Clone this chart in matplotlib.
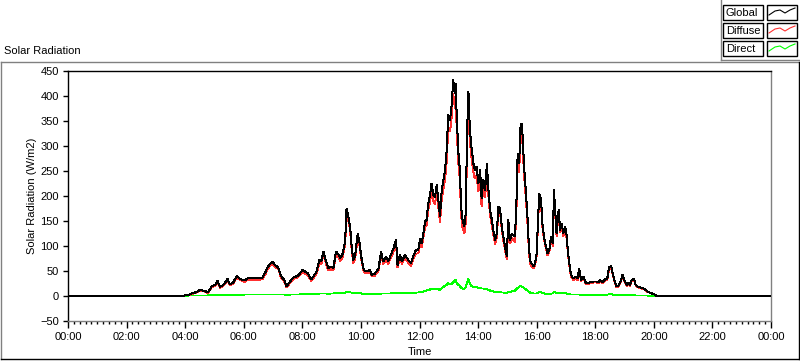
import matplotlib
matplotlib.use("Agg")
import matplotlib.pyplot as plt
from matplotlib.lines import Line2D
from matplotlib.patches import Rectangle
from matplotlib.ticker import FixedLocator, MultipleLocator, FuncFormatter

plt.rcParams['font.family'] = ['Liberation Sans', 'DejaVu Sans']

# ---------------- data (hours of day, W/m2) ----------------
times = [0, 3.9, 3.93, 3.99, 4.1, 4.27, 4.4, 4.5, 4.6, 4.68,
         4.78, 4.9, 5.02, 5.1, 5.19, 5.3, 5.36, 5.44, 5.53, 5.64,
         5.76, 5.85, 5.93, 6.04, 6.16, 6.27, 6.38, 6.5, 6.64, 6.75,
         6.84, 6.98, 7.07, 7.18, 7.27, 7.38, 7.46, 7.58, 7.69, 7.83,
         7.92, 8.0, 8.09, 8.2, 8.3, 8.4, 8.49, 8.58, 8.65, 8.72,
         8.81, 8.89, 8.97, 9.06, 9.15, 9.23, 9.3, 9.38, 9.46, 9.51,
         9.55, 9.63, 9.68, 9.74, 9.8, 9.89, 9.94, 10.02, 10.1, 10.2,
         10.3, 10.37, 10.48, 10.6, 10.69, 10.76, 10.86, 10.93, 11.0, 11.11,
         11.2, 11.25, 11.33, 11.4, 11.5, 11.62, 11.71, 11.8, 11.88, 11.96,
         12.02, 12.07, 12.13, 12.19, 12.24, 12.3, 12.36, 12.41, 12.47, 12.53,
         12.59, 12.64, 12.7, 12.76, 12.81, 12.87, 12.93, 12.98, 13.04, 13.1,
         13.15, 13.21, 13.24, 13.27, 13.33, 13.38, 13.42, 13.47, 13.53, 13.58,
         13.62, 13.67, 13.72, 13.78, 13.84, 13.89, 13.95, 14.01, 14.07, 14.12,
         14.18, 14.24, 14.3, 14.35, 14.41, 14.47, 14.52, 14.58, 14.64, 14.69,
         14.75, 14.81, 14.86, 14.92, 14.98, 15.03, 15.09, 15.15, 15.2, 15.26,
         15.32, 15.35, 15.4, 15.45, 15.49, 15.52, 15.57, 15.62, 15.68, 15.73,
         15.77, 15.83, 15.89, 15.94, 16.0, 16.05, 16.09, 16.15, 16.2, 16.26,
         16.32, 16.37, 16.43, 16.49, 16.55, 16.59, 16.64, 16.68, 16.75, 16.8,
         16.85, 16.91, 16.97, 17.02, 17.06, 17.1, 17.17, 17.25, 17.33, 17.4,
         17.45, 17.52, 17.6, 17.65, 17.7, 17.82, 17.93, 18.04, 18.1, 18.16,
         18.24, 18.33, 18.41, 18.47, 18.54, 18.6, 18.65, 18.73, 18.81, 18.88,
         18.93, 18.99, 19.07, 19.12, 19.18, 19.24, 19.33, 19.38, 19.45, 19.54,
         19.65, 19.79, 19.9, 20.02, 20.1, 24]

global_rad = [0, 0, 0, 1, 2, 6, 8, 12, 11, 10,
              7, 19, 22, 31, 18, 22, 26, 35, 23, 27,
              40, 35, 33, 31, 37, 35, 36, 35, 37, 49,
              60, 69, 62, 57, 40, 32, 19, 29, 37, 40,
              45, 52, 49, 45, 33, 41, 49, 72, 69, 89,
              69, 55, 59, 56, 89, 83, 76, 85, 109, 175,
              165, 139, 102, 72, 79, 125, 112, 76, 52, 49,
              53, 42, 45, 55, 89, 69, 79, 69, 79, 95,
              112, 62, 82, 69, 82, 72, 65, 82, 92, 92,
              115, 105, 125, 149, 152, 185, 202, 225, 202, 198,
              222, 193, 159, 212, 229, 252, 292, 362, 352, 382,
              432, 405, 425, 359, 285, 252, 179, 152, 139, 165,
              319, 409, 332, 295, 265, 252, 259, 225, 252, 195,
              232, 212, 265, 215, 172, 152, 132, 112, 125, 179,
              175, 139, 119, 99, 79, 152, 112, 125, 122, 119,
              205, 285, 265, 339, 345, 319, 259, 219, 165, 105,
              72, 65, 60, 65, 85, 159, 205, 192, 142, 115,
              99, 85, 92, 119, 105, 212, 165, 125, 172, 132,
              145, 125, 139, 122, 95, 72, 42, 35, 39, 35,
              55, 32, 39, 29, 26, 27, 29, 29, 27, 32,
              27, 33, 35, 57, 60, 45, 32, 19, 22, 32,
              42, 32, 22, 26, 22, 32, 34, 22, 19, 17,
              15, 9, 6, 3, 0, 0]

diffuse_rad = [0, 0, 0, 1, 1, 5, 7, 11, 10, 9,
               6, 17, 20, 28, 16, 20, 24, 32, 21, 25,
               37, 33, 31, 28, 34, 32, 33, 32, 34, 45,
               56, 65, 58, 54, 37, 29, 17, 26, 34, 37,
               42, 47, 45, 41, 30, 37, 45, 66, 64, 84,
               64, 51, 54, 51, 83, 77, 70, 79, 102, 166,
               157, 132, 95, 66, 73, 118, 106, 71, 48, 45,
               49, 39, 41, 51, 83, 64, 73, 64, 74, 88,
               105, 57, 76, 64, 76, 66, 60, 76, 85, 85,
               106, 97, 116, 139, 141, 173, 189, 211, 189, 184,
               207, 179, 147, 196, 211, 232, 270, 336, 329, 358,
               404, 376, 392, 333, 263, 232, 163, 137, 125, 147,
               293, 375, 308, 275, 247, 235, 241, 209, 235, 180,
               217, 198, 251, 203, 161, 142, 123, 104, 117, 170,
               167, 132, 112, 93, 73, 144, 105, 116, 112, 108,
               191, 269, 247, 319, 326, 301, 243, 205, 154, 96,
               65, 59, 55, 60, 80, 153, 197, 184, 136, 110,
               95, 81, 88, 114, 100, 204, 158, 120, 165, 127,
               139, 120, 133, 117, 91, 68, 39, 32, 36, 32,
               52, 30, 37, 27, 24, 25, 27, 27, 25, 30,
               25, 31, 32, 54, 56, 42, 30, 17, 20, 30,
               40, 30, 20, 24, 20, 30, 32, 21, 18, 16,
               14, 8, 6, 3, 0, 0]

direct_rad = [0, 0, 0, 0, 1, 1, 1, 1, 1, 1,
              1, 2, 2, 2, 2, 2, 2, 2, 2, 2,
              2, 2, 2, 3, 3, 3, 3, 3, 3, 3,
              3, 3, 3, 3, 3, 3, 2, 3, 3, 3,
              3, 4, 4, 4, 3, 4, 4, 5, 5, 5,
              5, 4, 5, 5, 6, 6, 6, 6, 7, 8,
              8, 7, 7, 6, 6, 7, 6, 5, 4, 4,
              4, 3, 4, 4, 5, 5, 5, 5, 5, 6,
              6, 5, 6, 5, 6, 6, 5, 6, 7, 7,
              8, 8, 9, 10, 11, 12, 13, 14, 13, 14,
              15, 14, 12, 16, 18, 20, 22, 26, 23, 24,
              28, 30, 33, 26, 22, 20, 16, 15, 14, 18,
              26, 34, 24, 20, 18, 17, 18, 16, 17, 15,
              15, 14, 14, 12, 11, 10, 9, 8, 8, 9,
              8, 7, 7, 6, 6, 8, 7, 9, 10, 11,
              14, 16, 18, 20, 19, 18, 16, 14, 11, 9,
              7, 6, 5, 5, 5, 6, 8, 8, 6, 5,
              4, 4, 4, 5, 5, 8, 7, 5, 7, 5,
              6, 5, 6, 5, 4, 4, 3, 3, 3, 3,
              3, 2, 2, 2, 2, 2, 2, 2, 2, 2,
              2, 2, 3, 3, 4, 3, 2, 2, 2, 2,
              2, 2, 2, 2, 2, 2, 2, 1, 1, 1,
              1, 1, 0, 0, 0, 0]

series_names = ["Global", "Diffuse", "Direct"]
series_colors = ["#000000", "#ff3030", "#00ff00"]
x_tick_hours = list(range(0, 25, 2))
y_ticks = list(range(-50, 451, 50))

W, H = 800, 361


def fx(px):
    return px / W


def fy(py):
    return 1 - py / H


fig = plt.figure(figsize=(W / 100, H / 100), dpi=100)
fig.patch.set_facecolor("white")

# outer panel frame
gray = "#808080"
fig.add_artist(Line2D([fx(1), fx(799)], [fy(62), fy(62)], color=gray, lw=1))
fig.add_artist(Line2D([fx(1), fx(1)], [fy(62), fy(359)], color=gray, lw=1))
fig.add_artist(Line2D([fx(1), fx(799)], [fy(359), fy(359)], color="black", lw=1))
fig.add_artist(Line2D([fx(799), fx(799)], [fy(62), fy(359)], color="black", lw=1))
# legend area frame
fig.add_artist(Line2D([fx(721), fx(721)], [fy(0), fy(60)], color=gray, lw=1))
fig.add_artist(Line2D([fx(721), fx(800)], [fy(60), fy(60)], color=gray, lw=1))

fig.text(fx(4), fy(51), "Solar Radiation", fontsize=8, ha="left", va="center")

ax = fig.add_axes([fx(68), fy(321), (771 - 68) / W, (321 - 71) / H])
ax.plot(times, direct_rad, color=series_colors[2], lw=0.72, zorder=2, antialiased=False)
ax.plot(times, diffuse_rad, color=series_colors[1], lw=0.72, zorder=3, antialiased=False)
ax.plot(times, global_rad, color=series_colors[0], lw=0.72, zorder=4, antialiased=False)

ax.set_xlim(0, 24)
ax.set_ylim(-50, 450)
ax.xaxis.set_major_locator(FixedLocator(x_tick_hours))
ax.xaxis.set_minor_locator(MultipleLocator(0.2))
ax.xaxis.set_major_formatter(FuncFormatter(lambda v, p: "%02d:00" % (int(round(v)) % 24)))
ax.yaxis.set_major_locator(FixedLocator(y_ticks))
ax.tick_params(axis="x", which="major", direction="out", length=5, width=1, pad=3, labelsize=8)
ax.tick_params(axis="x", which="minor", direction="out", length=2.5, width=1)
ax.tick_params(axis="y", which="major", direction="out", length=3.5, width=1, pad=3, labelsize=8)
ax.spines["top"].set_color("black")
ax.spines["left"].set_color("black")
ax.spines["bottom"].set_color(gray)
ax.spines["right"].set_color(gray)
for s in ax.spines.values():
    s.set_linewidth(1)

fig.text(fx(420), fy(352), "Time", fontsize=8, ha="center", va="center")
fig.text(fx(32), fy(196), "Solar Radiation (W/m2)", fontsize=8, rotation=90,
         ha="center", va="center")

# legend (drawn as LabVIEW-style boxes)
zig_dx = [2, 8, 13, 18, 23, 28]
zig_dy = [10, 6, 5, 8, 5, 3]
for i, (name, col) in enumerate(zip(series_names, series_colors)):
    top = 5 + 18 * i
    h = 15
    fig.add_artist(Rectangle((fx(723), fy(top + h)), 40 / W, h / H, fill=False,
                             edgecolor="black", lw=1))
    fig.add_artist(Rectangle((fx(767), fy(top + h)), 30 / W, h / H, fill=False,
                             edgecolor="black", lw=1))
    fig.text(fx(726), fy(top + h / 2 + 0.5), name, fontsize=8, ha="left", va="center")
    fig.add_artist(Line2D([fx(767 + d) for d in zig_dx], [fy(top + d) for d in zig_dy],
                          color=col, lw=0.8))

fig.savefig("out.png", dpi=100, facecolor="white")
